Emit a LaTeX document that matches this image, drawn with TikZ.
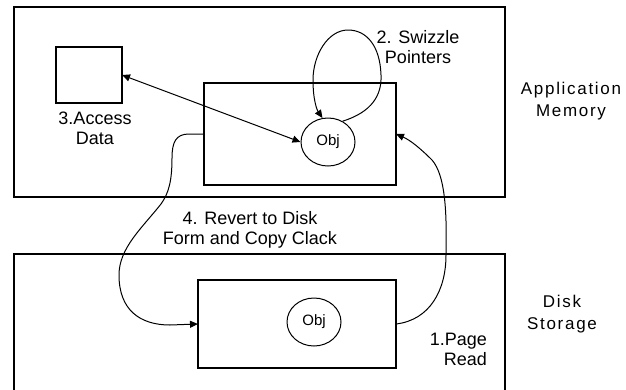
\documentclass[tikz,border=0pt]{standalone}
\usepackage{fontspec}
\setmainfont{Liberation Sans}
\newfontfamily\widefont[LetterSpace=10]{Liberation Sans}
\usetikzlibrary{arrows.meta}
\tikzset{
  box/.style={draw, line width=1.3pt, inner sep=0pt, outer sep=0pt, anchor=north west},
  objnode/.style={draw, line width=1pt, ellipse, minimum width=54pt, minimum height=48pt, inner sep=0pt, font=\fontsize{15}{15}\selectfont},
  link/.style={line width=1pt, -{Triangle[length=8pt,width=7pt]}},
  lbl/.style={align=center, inner sep=0pt, font=\fontsize{18}{20}\selectfont},
  widelbl/.style={align=center, inner sep=0pt, font=\widefont\fontsize{17}{22}\selectfont}
}
\usetikzlibrary{shapes.geometric}
\begin{document}
\begin{tikzpicture}[x=1pt,y=-1pt]
\useasboundingbox (0,0) rectangle (626,389);
\clip (0,0) rectangle (626,389);
% memory region and disk region (the disk region runs off the bottom)
\node[box, minimum width=491pt, minimum height=190pt] (appmem) at (14,7) {};
\node[box, minimum width=491pt, minimum height=160pt] (disk) at (14,254) {};
% data item, in-memory page and disk page
\node[box, minimum width=66pt, minimum height=56pt] (data) at (56,47) {};
\node[box, minimum width=192pt, minimum height=102pt] (mempage) at (204,83) {};
\node[box, minimum width=198pt, minimum height=88pt] (diskpage) at (198,280) {};
% objects
\node[objnode] (memobj) at (328,142) {Obj};
\node[objnode] (diskobj) at (314,322) {Obj};
% access data
\draw[link, {Triangle[length=8pt,width=7pt]}-{Triangle[length=8pt,width=7pt]}] (data.east) -- (memobj.west);
% swizzle loop
\draw[link] (memobj.55) .. controls (372,112) and (382,95) .. (381,75)
  .. controls (380,45) and (366,30) .. (348,30)
  .. controls (328,30) and (313,55) .. (313,80)
  .. controls (313,100) and (317,110) .. (memobj.103);
% write back to disk
\draw[link] (mempage.west) -- (189,134) .. controls (176,134) and (172,142) .. (172,158)
  .. controls (172,180) and (169,193) .. (161,204)
  .. controls (142,228) and (119,248) .. (119,275)
  .. controls (119,310) and (140,325) .. (170,325) -- (diskpage.west);
% page read
\draw[link] (diskpage.east) .. controls (430,320) and (446,290) .. (446,255)
  .. controls (447,210) and (445,175) .. (432,160)
  .. controls (420,148) and (410,140) .. (mempage.east);
% labels
\node[lbl] (l3) at (95,128) {3.Access\\Data};
\node[lbl] (l2) at (418,47) {2. Swizzle\\Pointers};
\node[widelbl] (lapp) at (571,101) {Application\\Memory};
\node[lbl] (l4) at (250,230) {4. Revert to Disk\\Form and Copy Clack};
\node[widelbl] (ldisk) at (562,314) {Disk\\Storage};
\node[lbl, align=right, anchor=east] (l1) at (487,349) {1.Page\\Read};
\end{tikzpicture}
\end{document}
